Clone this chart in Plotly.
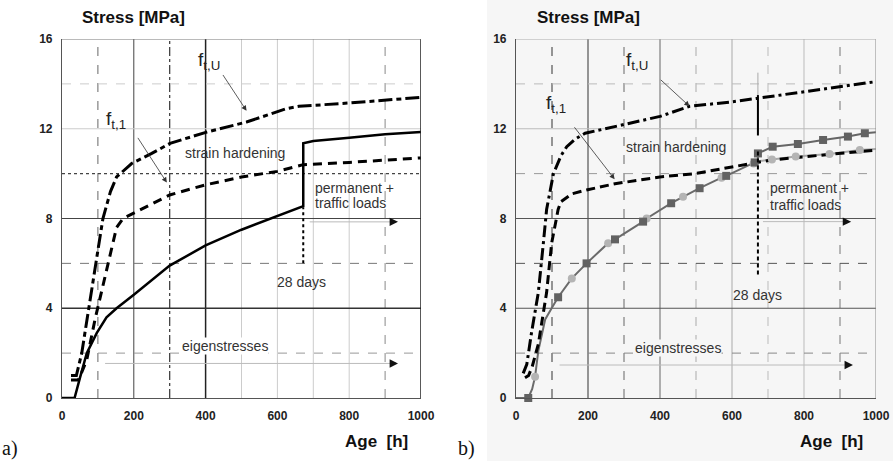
import plotly.graph_objects as go

W, H = 893, 461

# ---------------- data: panel a ----------------
a_ftu_x = [25, 40, 55, 75, 97, 114, 135, 152, 194, 250, 301, 403, 514, 626, 660, 802, 1000]
a_ftu_y = [1.0, 1.0, 2.0, 4.0, 6.1, 8.0, 9.2, 9.85, 10.45, 10.9, 11.35, 11.85, 12.3, 12.9, 13.0, 13.15, 13.4]

a_ft1_x = [25, 45, 50, 69, 92, 120, 152, 170, 200, 300, 400, 500, 600, 672, 800, 1000]
a_ft1_y = [0.8, 0.8, 0.95, 1.7, 3.5, 5.4, 7.6, 8.0, 8.25, 9.05, 9.5, 9.85, 10.1, 10.4, 10.5, 10.7]

a_st_x = [0, 35, 50, 69, 97, 124, 152, 200, 300, 400, 500, 600, 672, 672, 700, 800, 900, 1000]
a_st_y = [0, 0, 0.9, 2.0, 2.9, 3.6, 4.0, 4.6, 5.9, 6.8, 7.5, 8.1, 8.55, 11.35, 11.45, 11.6, 11.75, 11.85]

# ---------------- data: panel b ----------------
b_ftu_x = [20, 30, 43, 62, 76, 85, 104, 125, 141, 165, 192, 300, 400, 482, 600, 668, 800, 1000]
b_ftu_y = [1.1, 1.5, 2.9, 4.7, 6.9, 8.4, 10.0, 10.8, 11.2, 11.55, 11.8, 12.2, 12.55, 13.0, 13.2, 13.35, 13.65, 14.1]

b_ft1_x = [25, 35, 45, 62, 85, 99, 117, 125, 155, 196, 275, 400, 497, 584, 660, 706, 800, 1000]
b_ft1_y = [0.9, 1.0, 1.4, 2.4, 4.7, 6.9, 8.4, 8.75, 9.1, 9.27, 9.55, 9.85, 10.0, 10.25, 10.5, 10.6, 10.75, 11.05]

b_common_x = [0, 34, 45, 53, 62, 81, 99, 117, 155, 196, 256, 275, 353, 363, 431, 464, 510, 571, 584, 663, 672]
b_common_y = [0, 0, 0.4, 0.95, 2.1, 3.5, 4.0, 4.49, 5.33, 6.0, 6.9, 7.07, 7.86, 8.0, 8.68, 8.97, 9.35, 9.82, 9.9, 10.5, 10.55]

b_sq_line_x = [672, 672, 713, 783, 853, 922, 969, 1000]
b_sq_line_y = [10.55, 10.9, 11.2, 11.32, 11.5, 11.65, 11.8, 11.85]
b_ci_line_x = [672, 711, 777, 871, 955, 1000]
b_ci_line_y = [10.55, 10.63, 10.76, 10.87, 11.05, 11.1]

b_sq_x = [34, 117, 196, 275, 353, 431, 510, 584, 663, 672, 713, 783, 853, 922, 969]
b_sq_y = [0, 4.49, 6.0, 7.07, 7.86, 8.68, 9.35, 9.9, 10.5, 10.9, 11.2, 11.32, 11.5, 11.65, 11.8]
b_ci_x = [53, 155, 256, 363, 464, 571, 660, 711, 777, 871, 955]
b_ci_y = [0.95, 5.33, 6.9, 8.0, 8.97, 9.82, 10.45, 10.63, 10.76, 10.87, 11.05]

x_ticks = [0, 200, 400, 600, 800, 1000]
y_ticks = [0, 4, 8, 12, 16]

# ---------------- layout geometry ----------------
def px_x(p):
    return p / W

def px_y(p):
    return 1 - p / H

ydom = [px_y(398), px_y(39)]
xdom1 = [px_x(62), px_x(421)]
xdom2 = [px_x(516), px_x(876)]

fig = go.Figure()

# panel a traces
fig.add_trace(go.Scatter(x=a_ftu_x, y=a_ftu_y, mode="lines", xaxis="x", yaxis="y",
                         line=dict(color="black", width=3, dash="14px,4px,5px,4px")))
fig.add_trace(go.Scatter(x=a_ft1_x, y=a_ft1_y, mode="lines", xaxis="x", yaxis="y",
                         line=dict(color="black", width=3, dash="9px,6px")))
fig.add_trace(go.Scatter(x=a_st_x, y=a_st_y, mode="lines", xaxis="x", yaxis="y",
                         line=dict(color="black", width=2.5), cliponaxis=False))

# panel b traces
fig.add_trace(go.Scatter(x=b_common_x, y=b_common_y, mode="lines", xaxis="x2", yaxis="y2",
                         line=dict(color="#6a6a6a", width=2), cliponaxis=False))
fig.add_trace(go.Scatter(x=b_ci_line_x, y=b_ci_line_y, mode="lines", xaxis="x2", yaxis="y2",
                         line=dict(color="#a8a8a8", width=2)))
fig.add_trace(go.Scatter(x=b_sq_line_x, y=b_sq_line_y, mode="lines", xaxis="x2", yaxis="y2",
                         line=dict(color="#666666", width=2)))
fig.add_trace(go.Scatter(x=b_ftu_x, y=b_ftu_y, mode="lines", xaxis="x2", yaxis="y2",
                         line=dict(color="black", width=3, dash="12px,4px,3px,4px")))
fig.add_trace(go.Scatter(x=b_ft1_x, y=b_ft1_y, mode="lines", xaxis="x2", yaxis="y2",
                         line=dict(color="black", width=3, dash="9px,5px")))
fig.add_trace(go.Scatter(x=b_ci_x, y=b_ci_y, mode="markers", xaxis="x2", yaxis="y2",
                         marker=dict(symbol="circle", size=8, color="#b4b4b4"), cliponaxis=False))
fig.add_trace(go.Scatter(x=b_sq_x, y=b_sq_y, mode="markers", xaxis="x2", yaxis="y2",
                         marker=dict(symbol="square", size=8, color="#626262"), cliponaxis=False))

shapes = []
# light gray background for panel b region
shapes.append(dict(type="rect", xref="paper", yref="paper", x0=px_x(487), x1=1, y0=0, y1=1,
                   fillcolor="#f6f6f6", line=dict(width=0), layer="below"))

# grid lines: (value, color, dash, width)
grid_a_v = [(100, "#666", "dash", 1), (200, "#444", "solid", 1), (300, "#333", "dashdot", 1.2),
            (400, "#222", "solid", 1.5), (500, "#ccc", "solid", 1), (600, "#ccc", "solid", 1),
            (700, "#ccc", "solid", 1), (800, "#ccc", "solid", 1), (900, "#888", "dash", 1)]
grid_a_h = [(2, "#999", "dash", 1), (4, "#333", "solid", 1.5), (6, "#777", "dash", 1),
            (8, "#444", "solid", 1.2), (10, "#444", "dot", 1.2), (12, "#ccc", "solid", 1),
            (14, "#ccc", "dash", 1)]
grid_b_v = [(100, "#333", "dash", 1), (200, "#333", "solid", 1), (300, "#666", "dash", 1),
            (400, "#666", "solid", 1), (500, "#aaa", "dash", 1), (600, "#aaa", "solid", 1),
            (700, "#bbb", "dash", 1), (800, "#bbb", "solid", 1), (900, "#777", "dash", 1)]
grid_b_h = [(2, "#888", "dash", 1), (4, "#555", "solid", 1.2), (6, "#555", "dash", 1),
            (8, "#555", "solid", 1.2), (10, "#999", "dash", 1), (12, "#bbb", "solid", 1),
            (14, "#bbb", "dash", 1)]

def add_grid(xr, yr, vlist, hlist):
    for v, c, d, w in vlist:
        shapes.append(dict(type="line", xref=xr, yref=yr, x0=v, x1=v, y0=0, y1=16,
                           line=dict(color=c, dash=d, width=w), layer="below"))
    for v, c, d, w in hlist:
        shapes.append(dict(type="line", xref=xr, yref=yr, x0=0, x1=1000, y0=v, y1=v,
                           line=dict(color=c, dash=d, width=w), layer="below"))

add_grid("x", "y", grid_a_v, grid_a_h)
add_grid("x2", "y2", grid_b_v, grid_b_h)

# borders
shapes.append(dict(type="line", xref="x", yref="y", x0=1000, x1=1000, y0=0, y1=16,
                   line=dict(color="#222", width=1.5)))
shapes.append(dict(type="line", xref="x", yref="y", x0=0, x1=1000, y0=16, y1=16,
                   line=dict(color="#777", width=1)))
shapes.append(dict(type="line", xref="x2", yref="y2", x0=1000, x1=1000, y0=0, y1=16,
                   line=dict(color="#888", width=1)))
shapes.append(dict(type="line", xref="x2", yref="y2", x0=0, x1=1000, y0=16, y1=16,
                   line=dict(color="#aaa", width=1)))

# 28 days markers
shapes.append(dict(type="line", xref="x", yref="y", x0=672, x1=672, y0=6.0, y1=8.5,
                   line=dict(color="black", width=2, dash="dot")))
shapes.append(dict(type="line", xref="x2", yref="y2", x0=672, x1=672, y0=11.8, y1=14.5,
                   line=dict(color="#aaa", width=1)))
shapes.append(dict(type="line", xref="x2", yref="y2", x0=672, x1=672, y0=11.7, y1=13.5,
                   line=dict(color="black", width=2)))
shapes.append(dict(type="line", xref="x2", yref="y2", x0=672, x1=672, y0=5.5, y1=11.0,
                   line=dict(color="black", width=2, dash="4px,3px")))

# horizontal load arrows (gray shaft + black head)
arrows_h = [("x", "y", 690, 936, 7.85), ("x", "y", 120, 936, 1.54),
            ("x2", "y2", 686, 931, 7.86), ("x2", "y2", 121, 936, 1.47)]
for xr, yr, x0, x1, yv in arrows_h:
    shapes.append(dict(type="line", xref=xr, yref=yr, x0=x0, x1=x1 - 10, y0=yv, y1=yv,
                       line=dict(color="#bbb", width=1)))

annotations = []
for xr, yr, x0, x1, yv in arrows_h:
    annotations.append(dict(xref=xr, yref=yr, x=x1, y=yv, ax=-8, ay=0,
                            showarrow=True, arrowhead=2, arrowsize=1.4, arrowwidth=1.2,
                            arrowcolor="#111", text=" ", standoff=0))

txt = dict(family="Arial, Liberation Sans, sans-serif", size=14, color="#333")
ftxt = dict(family="Arial, Liberation Sans, sans-serif", size=19, color="#222")

def label(xr, yr, x, y, text, font=txt, xanchor="center", bg=None):
    d = dict(xref=xr, yref=yr, x=x, y=y, text=text, showarrow=False, font=font,
             xanchor=xanchor, yanchor="middle")
    if bg:
        d["bgcolor"] = bg
        d["borderpad"] = 0
    annotations.append(d)

def pointer(xr, yr, x0, y0, x1, y1):
    annotations.append(dict(xref=xr, yref=yr, axref=xr, ayref=yr, x=x1, y=y1, ax=x0, ay=y0,
                            text=" ", showarrow=True, arrowhead=2, arrowsize=1.3,
                            arrowwidth=0.8, arrowcolor="#333"))

# panel a labels
label("x", "y", 410, 15.0, "f<sub>t,U</sub>", ftxt)
pointer("x", "y", 440, 14.6, 514, 12.8)
label("x", "y", 150, 12.4, "f<sub>t,1</sub>", ftxt)
pointer("x", "y", 203, 11.8, 292, 9.6)
label("x", "y", 482, 10.9, "strain hardening")
label("x", "y", 700, 9.35, "permanent +", xanchor="left")
label("x", "y", 700, 8.68, "traffic loads", xanchor="left")
label("x", "y", 668, 5.18, "28 days")
label("x", "y", 454, 2.3, "eigenstresses", bg="white")

# panel b labels
label("x2", "y2", 337, 15.0, "f<sub>t,U</sub>", ftxt)
pointer("x2", "y2", 394, 14.3, 482, 13.0)
label("x2", "y2", 110, 13.1, "f<sub>t,1</sub>", ftxt)
pointer("x2", "y2", 154, 12.24, 274, 9.75)
label("x2", "y2", 445, 11.2, "strain hardening")
label("x2", "y2", 700, 9.34, "permanent +", xanchor="left")
label("x2", "y2", 700, 8.62, "traffic loads", xanchor="left")
label("x2", "y2", 672, 4.59, "28 days")
label("x2", "y2", 450, 2.25, "eigenstresses", bg="#f6f6f6")

# titles and panel tags
bold = dict(family="Arial, Liberation Sans, sans-serif", size=17, color="#111", weight="bold")
for xp, text in [(80, "Stress [MPa]"), (535, "Stress [MPa]")]:
    annotations.append(dict(xref="paper", yref="paper", x=px_x(xp), y=px_y(17), text=text,
                            showarrow=False, font=bold, xanchor="left", yanchor="middle"))
for xp, text in [(410, "Age  [h]"), (865, "Age  [h]")]:
    annotations.append(dict(xref="paper", yref="paper", x=px_x(xp), y=px_y(441), text=text,
                            showarrow=False, font=bold, xanchor="right", yanchor="middle"))
serif = dict(family="Liberation Serif, Times New Roman, serif", size=20, color="#111")
for xp, text in [(0, "a)"), (456, "b)")]:
    annotations.append(dict(xref="paper", yref="paper", x=px_x(xp), y=px_y(448), text=text,
                            showarrow=False, font=serif, xanchor="left", yanchor="middle"))

tickfont = dict(family="Arial, Liberation Sans, sans-serif", size=12, color="#222", weight="bold")
axis_common = dict(range=[0, 1000], tickvals=x_ticks, ticktext=[str(v) for v in x_ticks],
                   showgrid=False, zeroline=False, ticks="", tickfont=tickfont, automargin=False,
                   showline=True, linecolor="#555", linewidth=1.2, ticklabelstandoff=6)
yaxis_common = dict(range=[0, 16], tickvals=y_ticks, ticktext=[str(v) for v in y_ticks],
                    showgrid=False, zeroline=False, ticks="", tickfont=tickfont, automargin=False,
                    showline=True, linecolor="#555", linewidth=1.2, ticklabelstandoff=6)

fig.update_layout(
    width=W, height=H, margin=dict(l=0, r=0, t=0, b=0, autoexpand=False),
    paper_bgcolor="white", plot_bgcolor="rgba(0,0,0,0)", showlegend=False,
    xaxis=dict(domain=xdom1, anchor="y", **axis_common),
    yaxis=dict(domain=ydom, anchor="x", **yaxis_common),
    xaxis2=dict(domain=xdom2, anchor="y2", **axis_common),
    yaxis2=dict(domain=ydom, anchor="x2", **yaxis_common),
    shapes=shapes, annotations=annotations,
)

fig.write_html("out.html", config={"displayModeBar": False},
               post_script="document.body.style.margin='0';document.body.style.overflow='hidden';")
